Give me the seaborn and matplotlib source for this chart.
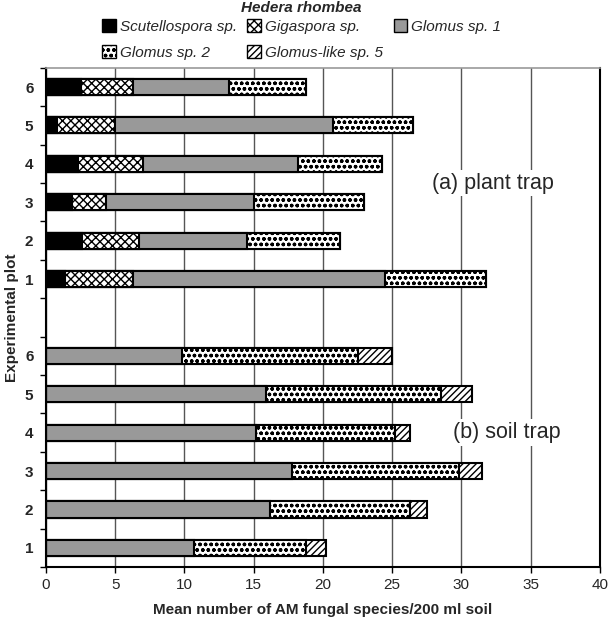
import matplotlib
matplotlib.use('Agg')
import matplotlib.pyplot as plt
from matplotlib.patches import Patch
import seaborn as sns
import pandas as pd
import numpy as np

sns.set_style('white')
plt.rcParams['font.family'] = ['Liberation Sans', 'DejaVu Sans']
plt.rcParams['hatch.linewidth'] = 1.0

# data (segments per plot 1..6)
plots = ['1', '2', '3', '4', '5', '6']
species = ['Scutellospora sp.', 'Gigaspora sp.', 'Glomus sp. 1', 'Glomus sp. 2', 'Glomus-like sp. 5']

plant_scut = [1.4, 2.6, 1.9, 2.3, 0.8, 2.5]
plant_giga = [4.9, 4.1, 2.4, 4.7, 4.2, 3.8]
plant_glom1 = [18.2, 7.8, 10.7, 11.2, 15.7, 6.9]
plant_glom2 = [7.3, 6.7, 8.0, 6.1, 5.8, 5.6]
plant_like5 = [0, 0, 0, 0, 0, 0]

soil_scut = [0, 0, 0, 0, 0, 0]
soil_giga = [0, 0, 0, 0, 0, 0]
soil_glom1 = [10.7, 16.2, 17.8, 15.2, 15.9, 9.8]
soil_glom2 = [8.1, 10.1, 12.0, 10.0, 12.6, 12.7]
soil_like5 = [1.4, 1.2, 1.7, 1.1, 2.3, 2.5]

colors = ['black', 'white', '#999999', 'white', 'white']
hatches = [None, 'xxxx', None, 'ooo', '/////']

rows = []
for trap, vals in [('a', [plant_scut, plant_giga, plant_glom1, plant_glom2, plant_like5]),
                   ('b', [soil_scut, soil_giga, soil_glom1, soil_glom2, soil_like5])]:
    for i, p in enumerate(plots):
        r = {'key': trap + p}
        for s, v in zip(species, vals):
            r[s] = v[i]
        rows.append(r)
df = pd.DataFrame(rows)
cum = df[species].cumsum(axis=1)
for s in species:
    df['cum_' + s] = cum[s]

order = ['a6', 'a5', 'a4', 'a3', 'a2', 'a1', 'gap', 'b6', 'b5', 'b4', 'b3', 'b2', 'b1']
ylabels = ['6', '5', '4', '3', '2', '1', '', '6', '5', '4', '3', '2', '1']

fig = plt.figure(figsize=(6.09, 6.28), dpi=100)
ax = fig.add_axes([0.0755, 0.097, 0.9095, 0.795])

for s, c, h in reversed(list(zip(species, colors, hatches))):
    sns.barplot(data=df, y='key', x='cum_' + s, order=order, orient='h',
                color=c, hatch=h, edgecolor='black', linewidth=1.5,
                width=0.42, saturation=1, errorbar=None, ax=ax)

ax.set_xlim(0, 40)
ax.set_xticks(np.arange(0, 41, 5))
ax.set_ylim(12.5, -0.5)
ax.set_yticks(range(13))
ax.set_yticklabels(ylabels, fontweight='bold', fontsize=11)
ax.set_yticks(np.arange(-0.5, 13, 1), minor=True)
ax.tick_params(axis='y', which='major', length=0, pad=9)
ax.tick_params(axis='y', which='minor', length=4, width=1, direction='out', color='black', left=True)
ax.tick_params(axis='x', length=4, width=1, direction='out', color='black', bottom=True, labelsize=11)

ax.set_axisbelow(True)
ax.xaxis.grid(True, color='#555555', linewidth=1)
ax.yaxis.grid(False)

for side in ['left', 'bottom', 'right']:
    ax.spines[side].set_color('black')
    ax.spines[side].set_linewidth(1.5)
ax.spines['top'].set_color('#999999')
ax.spines['top'].set_linewidth(1.2)

ax.set_xlabel('Mean number of AM fungal species/200 ml soil', fontweight='bold', fontsize=11, labelpad=8)
ax.set_ylabel('Experimental plot', fontweight='bold', fontsize=11, labelpad=4)

ax.text(27.9, 2.5, '(a) plant trap', fontsize=15.5, va='center', ha='left',
        bbox=dict(facecolor='white', edgecolor='none', pad=2))
ax.text(29.4, 9.0, '(b) soil trap', fontsize=15.5, va='center', ha='left',
        bbox=dict(facecolor='white', edgecolor='none', pad=2))

# legend filled column-wise, so reorder to read row-wise
handles = [Patch(facecolor=c, edgecolor='black', hatch=h, linewidth=1) for c, h in zip(colors, hatches)]
idx = [0, 3, 1, 4, 2]
leg = fig.legend([handles[i] for i in idx], [species[i] for i in idx], ncol=3,
                 loc='upper left', bbox_to_anchor=(0.145, 1.02),
                 frameon=False, prop={'style': 'italic', 'size': 11},
                 handlelength=0.9, handleheight=0.9, handletextpad=0.25,
                 columnspacing=0.7, labelspacing=0.75)
leg.set_title('Hedera rhombea', prop={'style': 'italic', 'weight': 'bold', 'size': 11})
leg._legend_box.sep = 3

fig.savefig('out.png', dpi=100)
